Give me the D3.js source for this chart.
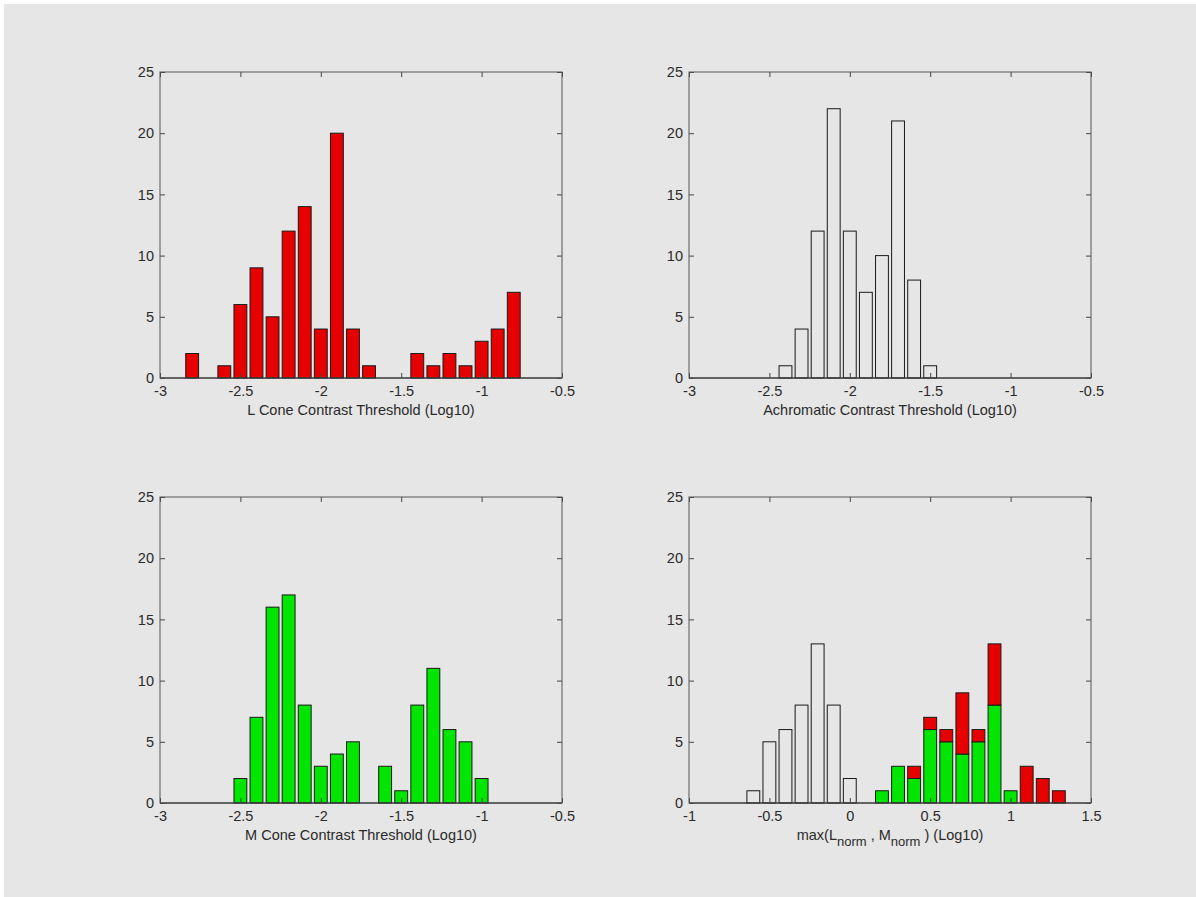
<!DOCTYPE html>
<html>
<head>
<meta charset="utf-8">
<script src="https://cdn.jsdelivr.net/npm/d3@7/dist/d3.min.js"></script>
<style>
  body { margin: 0; background: #fff; }
  svg { display: block; }
  text { font-family: "Liberation Sans", Arial, sans-serif; }
</style>
</head>
<body>
<svg id="fig" width="1196" height="897"></svg>
<script>
// histogram bin centres and counts
const lConeBins = [-2.8, -2.7, -2.6, -2.5, -2.4, -2.3, -2.2, -2.1, -2.0, -1.9, -1.8,
  -1.7, -1.6, -1.5, -1.4, -1.3, -1.2, -1.1, -1.0, -0.9, -0.8];
const lConeCounts = [2, 0, 1, 6, 9, 5, 12, 14, 4, 20, 4, 1, 0, 0, 2, 1, 2, 1, 3, 4, 7];

const achroBins = [-2.4, -2.3, -2.2, -2.1, -2.0, -1.9, -1.8, -1.7, -1.6, -1.5];
const achroCounts = [1, 4, 12, 22, 12, 7, 10, 21, 8, 1];

const mConeBins = [-2.5, -2.4, -2.3, -2.2, -2.1, -2.0, -1.9, -1.8, -1.7, -1.6, -1.5,
  -1.4, -1.3, -1.2, -1.1, -1.0];
const mConeCounts = [2, 7, 16, 17, 8, 3, 4, 5, 0, 3, 1, 8, 11, 6, 5, 2];

const normAchroBins = [-0.6, -0.5, -0.4, -0.3, -0.2, -0.1, 0.0];
const normAchroCounts = [1, 5, 6, 8, 13, 8, 2];

const normConeBins = [0.2, 0.3, 0.4, 0.5, 0.6, 0.7, 0.8, 0.9, 1.0, 1.1, 1.2, 1.3];
const normMCounts = [1, 3, 2, 6, 5, 4, 5, 8, 1, 0, 0, 0];
const normLCounts = [0, 0, 1, 1, 1, 5, 1, 5, 0, 3, 2, 1];

const yTicks = [0, 5, 10, 15, 20, 25];
const coneTicks = [-3, -2.5, -2, -1.5, -1, -0.5];
const normTicks = [-1, -0.5, 0, 0.5, 1, 1.5];

const RED = '#e60000', GREEN = '#00e600';
const TEXT = '#2a2a2a';
const FS = 14.5;
const binWidth = 0.1, barFrac = 0.8;

let svg = d3.select('#fig');
svg.append('rect')
  .attr('x', 4).attr('y', 4)
  .attr('width', 1196).attr('height', 897)
  .attr('fill', '#e6e6e6');

function panel(left, top, xDomain, xTicks) {
  let w = 402, h = 306;
  let g = svg.append('g').attr('transform', `translate(${left},${top})`);
  let x = d3.scaleLinear().domain(xDomain).range([0, w]);
  let y = d3.scaleLinear().domain([0, 25]).range([h, 0]);
  g.x = x; g.y = y; g.w = w; g.h = h;

  g.append('g').attr('class', 'bars');

  g.append('g').attr('transform', `translate(0,${h})`)
    .call(d3.axisBottom(x).tickValues(xTicks).tickSizeInner(-5).tickSizeOuter(0).tickPadding(8).tickFormat(String))
    .call(s => s.select('.domain').remove());
  g.append('g')
    .call(d3.axisTop(x).tickValues(xTicks).tickSizeInner(-5).tickSizeOuter(0).tickFormat(''))
    .call(s => s.select('.domain').remove());
  g.append('g')
    .call(d3.axisLeft(y).tickValues(yTicks).tickSizeInner(-5).tickSizeOuter(0).tickPadding(6))
    .call(s => s.select('.domain').remove());
  g.append('g').attr('transform', `translate(${w},0)`)
    .call(d3.axisRight(y).tickValues(yTicks).tickSizeInner(-5).tickSizeOuter(0).tickFormat(''))
    .call(s => s.select('.domain').remove());
  g.selectAll('.tick text')
    .attr('fill', TEXT)
    .attr('font-family', '"Liberation Sans", Arial, sans-serif')
    .attr('font-size', FS);
  g.selectAll('.tick line').attr('stroke', '#444');

  g.append('rect')
    .attr('width', w).attr('height', h)
    .attr('fill', 'none').attr('stroke', '#555').attr('stroke-width', 1);
  return g;
}

function bars(g, bins, base, counts, fill) {
  let x = g.x, y = g.y;
  let half = binWidth * barFrac / 2;
  let data = bins.map((b, i) => ({ b: b, y0: base ? base[i] : 0, n: counts[i] }))
    .filter(d => d.n > 0);
  g.select('.bars').selectAll(null)
    .data(data)
    .enter().append('rect')
    .attr('x', d => x(d.b - half))
    .attr('width', d => x(d.b + half) - x(d.b - half))
    .attr('y', d => y(d.y0 + d.n))
    .attr('height', d => y(d.y0) - y(d.y0 + d.n))
    .attr('fill', fill)
    .attr('stroke', '#1a1a1a')
    .attr('stroke-width', 1);
}

function baseline(g) {
  g.select('.bars').append('line')
    .attr('x1', 0).attr('x2', g.w)
    .attr('y1', g.y(0)).attr('y2', g.y(0))
    .attr('stroke', '#000');
}

function xlabel(g, txt) {
  return g.append('text')
    .attr('x', g.w / 2).attr('y', g.h + 37)
    .attr('text-anchor', 'middle')
    .attr('fill', TEXT)
    .attr('font-size', FS)
    .text(txt);
}

let p1 = panel(160, 72, [-3, -0.5], coneTicks);
bars(p1, lConeBins, null, lConeCounts, RED);
baseline(p1);
xlabel(p1, 'L Cone Contrast Threshold (Log10)');

let p2 = panel(689, 72, [-3, -0.5], coneTicks);
bars(p2, achroBins, null, achroCounts, 'none');
baseline(p2);
xlabel(p2, 'Achromatic Contrast Threshold (Log10)');

let p3 = panel(160, 497, [-3, -0.5], coneTicks);
bars(p3, mConeBins, null, mConeCounts, GREEN);
baseline(p3);
xlabel(p3, 'M Cone Contrast Threshold (Log10)');

let p4 = panel(689, 497, [-1, 1.5], normTicks);
bars(p4, normAchroBins, null, normAchroCounts, 'none');
bars(p4, normConeBins, null, normMCounts, GREEN);
bars(p4, normConeBins, normMCounts, normLCounts, RED);
baseline(p4);
let lab = xlabel(p4, '');
lab.append('tspan').text('max(L');
lab.append('tspan').attr('dy', 6).attr('font-size', 13).text('norm');
lab.append('tspan').attr('dy', -6).text(' , M');
lab.append('tspan').attr('dy', 6).attr('font-size', 13).text('norm');
lab.append('tspan').attr('dy', -6).text(' ) (Log10)');
</script>
</body>
</html>
